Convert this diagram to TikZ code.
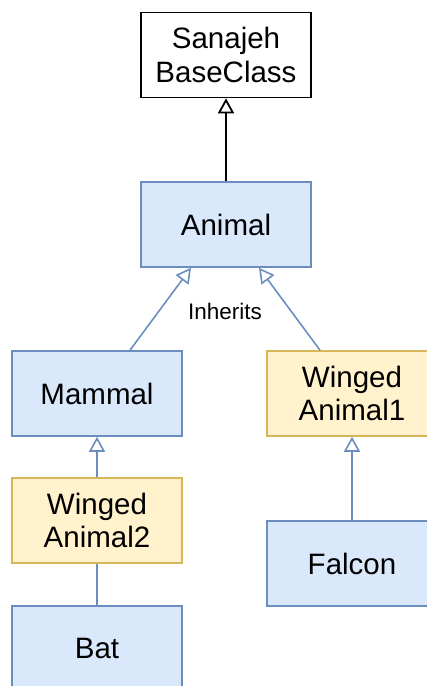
\documentclass[tikz,border=0pt]{standalone}
\usepackage{fontspec}
\setmainfont{Liberation Sans}
\usetikzlibrary{arrows.meta}
\definecolor{bfill}{HTML}{DAE8FC}
\definecolor{bline}{HTML}{6C8EBF}
\definecolor{yfill}{HTML}{FFF2CC}
\definecolor{yline}{HTML}{D6B656}
\begin{document}
\begin{tikzpicture}[x=1pt,y=-1pt,
  box/.style={draw, line width=1.6pt, minimum width=170pt, minimum height=85pt, inner sep=0pt, align=center, font=\fontsize{29.5}{33.5}\selectfont},
  bluebox/.style={box, draw=bline, fill=bfill},
  yellowbox/.style={box, draw=yline, fill=yfill},
  whitebox/.style={box, draw=black, fill=white},
  inh/.style={line width=1.6pt, draw=bline, -{Triangle[open, length=15pt, width=16pt, fill=white]}},
  inhk/.style={line width=1.8pt, draw=black, -{Triangle[open, length=15pt, width=16pt, fill=white]}},
  plain/.style={line width=1.6pt, draw=bline}]
\useasboundingbox (0,0) rectangle (427,686);
\node[whitebox] (base) at (226,55) {Sanajeh\\BaseClass};
\node[bluebox] (animal) at (226,224.5) {Animal};
\node[bluebox] (mammal) at (97,393.5) {Mammal};
\node[yellowbox] (wa1) at (352,393.5) {Winged\\Animal1};
\node[yellowbox] (wa2) at (97,520.5) {Winged\\Animal2};
\node[bluebox] (falcon) at (352,563.5) {Falcon};
\node[bluebox] (bat) at (97,648.5) {Bat};
\node[font=\fontsize{22.5}{26}\selectfont] (lbl) at (225,311) {Inherits};
\draw[inhk] (animal.north) -- (base.south);
\draw[inh] ([xshift=33pt]mammal.north) -- ([xshift=-35pt]animal.south);
\draw[inh] ([xshift=-32pt]wa1.north) -- ([xshift=33pt]animal.south);
\draw[inh] (wa2.north) -- (mammal.south);
\draw[inh] (falcon.north) -- (wa1.south);
\draw[plain] (bat.north) -- (wa2.south);
\end{tikzpicture}
\end{document}
